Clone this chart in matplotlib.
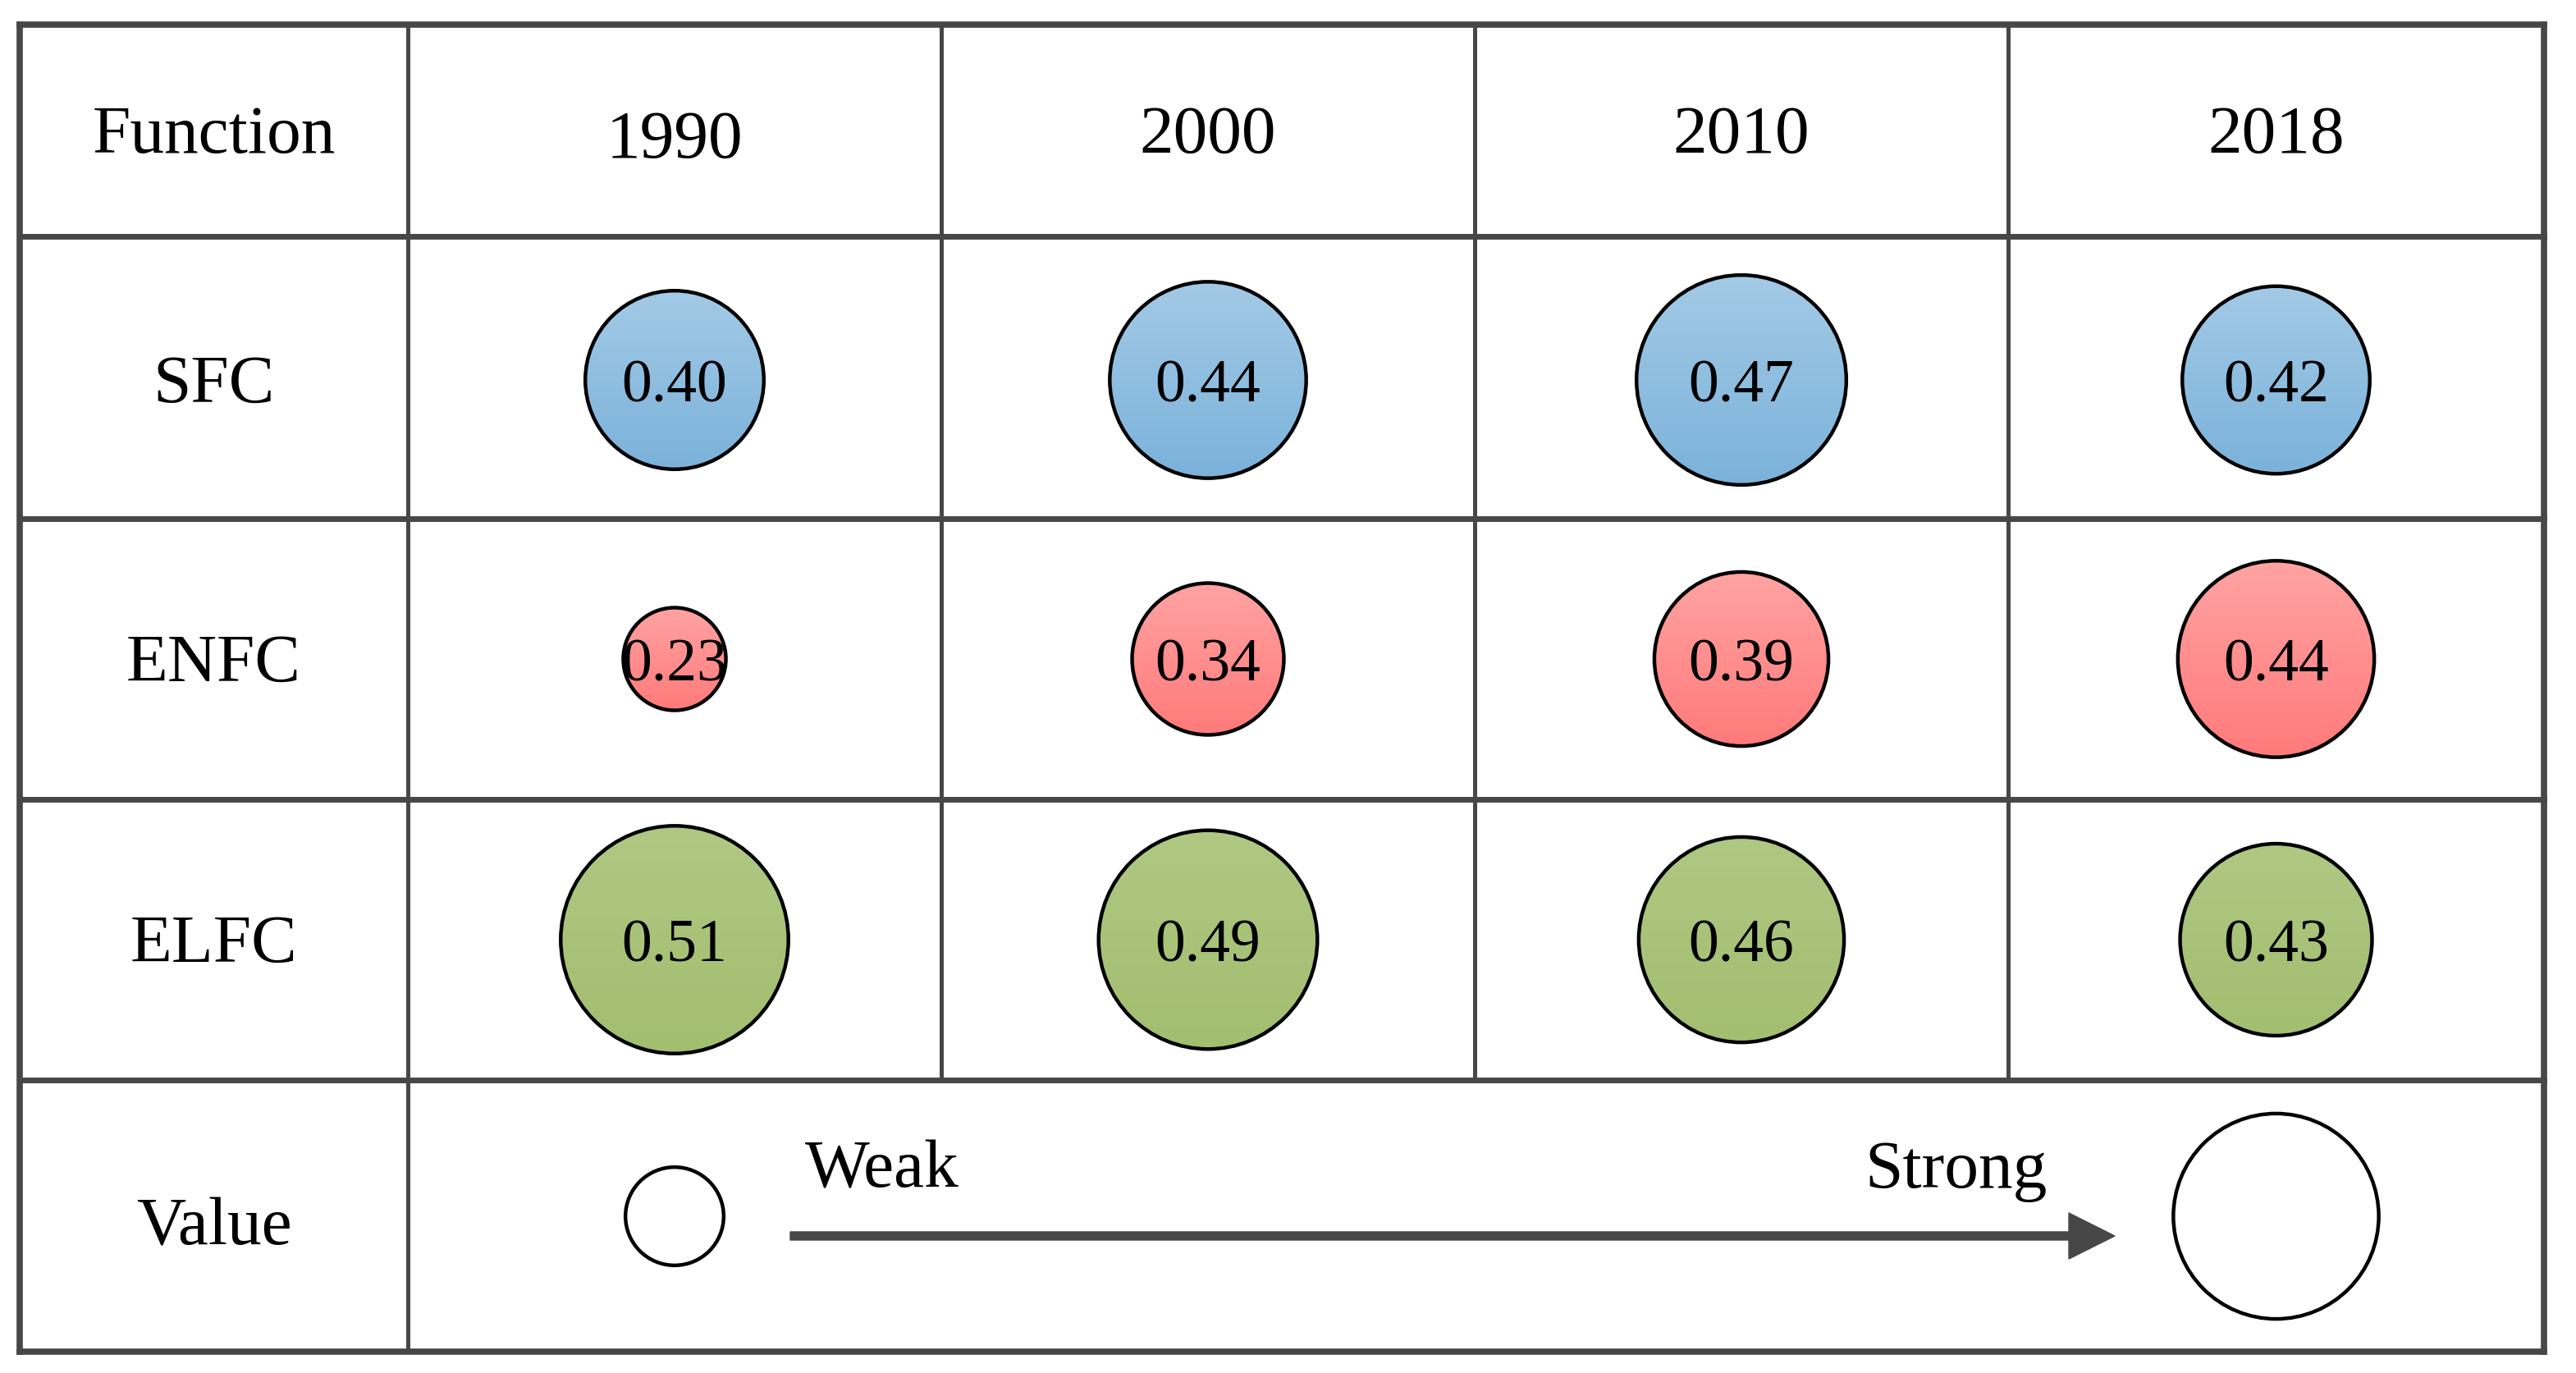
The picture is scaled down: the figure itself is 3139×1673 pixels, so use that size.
import numpy as np
import matplotlib
matplotlib.use("Agg")
import matplotlib.pyplot as plt
from matplotlib.patches import Circle

plt.rcParams['font.family'] = ['Liberation Serif', 'DejaVu Serif']

# data
functions = ['SFC', 'ENFC', 'ELFC']
years = ['1990', '2000', '2010', '2018']
sfc = [0.40, 0.44, 0.47, 0.42]
enfc = [0.23, 0.34, 0.39, 0.44]
elfc = [0.51, 0.49, 0.46, 0.43]
legend_vals = [0.22, 0.46]

# colours (top, bottom of the gradient)
colours = {'SFC': ('#a3cae6', '#7bb2da'),
           'ENFC': ('#ffa3a3', '#ff7a7a'),
           'ELFC': ('#afc883', '#a2be6f')}

# table geometry in pixels
W, H = 3139, 1673
xe = [24, 497, 1147, 1797, 2447, 3100]
ye = [30, 288, 632, 974, 1316, 1647]
k = 272  # radius per unit value
line_col = '#474747'

fig = plt.figure(figsize=(W / 100, H / 100), dpi=100)
ax = fig.add_axes([0, 0, 1, 1])
ax.set_xlim(0, W)
ax.set_ylim(H, 0)
ax.axis('off')

# grid lines
for y in ye:
    lw = 5.5 if y in (ye[0], ye[-1]) else 5.0
    ax.plot([xe[0], xe[-1]], [y, y], color=line_col, lw=lw, solid_capstyle='projecting', zorder=3)
for x in xe:
    if x in (xe[0], xe[1], xe[-1]):
        bottom = ye[-1]
    else:
        bottom = ye[-2]  # the value row is one merged cell
    lw = 5.5 if x in (xe[0], xe[-1]) else 3.6
    ax.plot([x, x], [ye[0], bottom], color=line_col, lw=lw, solid_capstyle='projecting', zorder=3)

xc = [(xe[i] + xe[i + 1]) / 2 for i in range(5)]
yc = [(ye[i] + ye[i + 1]) / 2 for i in range(5)]
yc[1] += 3

cap = 27  # half cap height of the labels
ax.text(xc[0], yc[0] + cap, 'Function', fontsize=60, ha='center', va='baseline')
for i, yr in enumerate(years):
    off = 6 if i == 0 else 0
    ax.text(xc[i + 1], yc[0] + cap + off, yr, fontsize=60, ha='center', va='baseline')
for j, f in enumerate(functions):
    ax.text(xc[0], yc[j + 1] + cap, f, fontsize=60, ha='center', va='baseline')
ax.text(xc[0], yc[4] + cap + 8, 'Value', fontsize=60, ha='center', va='baseline')

grad = np.linspace(0, 1, 256).reshape(-1, 1)
rows = [sfc, enfc, elfc]
for j, f in enumerate(functions):
    top, bot = colours[f]
    cmap = matplotlib.colors.LinearSegmentedColormap.from_list(f, [top, bot])
    for i, v in enumerate(rows[j]):
        cx, cy = xc[i + 1], yc[j + 1]
        r = k * v
        im = ax.imshow(grad, cmap=cmap, extent=[cx - r, cx + r, cy + r, cy - r],
                       aspect='auto', zorder=4, interpolation='bilinear')
        clip = Circle((cx, cy), r, transform=ax.transData)
        im.set_clip_path(clip)
        ax.add_patch(Circle((cx, cy), r, fill=False, ec='black', lw=3.2, zorder=5))
        ax.text(cx, cy + 26, '%.2f' % v, fontsize=53, ha='center', va='baseline', zorder=6)

# legend row
ax.set_xlim(0, W)
ax.set_ylim(H, 0)
ly = 1482
ax.add_patch(Circle((xc[1], ly), k * legend_vals[0], fc='white', ec='black', lw=3.2, zorder=5))
ax.add_patch(Circle((xc[4], ly), k * legend_vals[1], fc='white', ec='black', lw=3.2, zorder=5))
ax.arrow(963, 1506, 2577 - 963, 0, width=10, head_width=56, head_length=56,
         length_includes_head=True, color=line_col, zorder=5)
ax.text(981, 1447, 'Weak', fontsize=60, ha='left', va='baseline')
ax.text(2495, 1447, 'Strong', fontsize=60, ha='right', va='baseline')

fig.savefig('out.png', dpi=100, facecolor='white')
